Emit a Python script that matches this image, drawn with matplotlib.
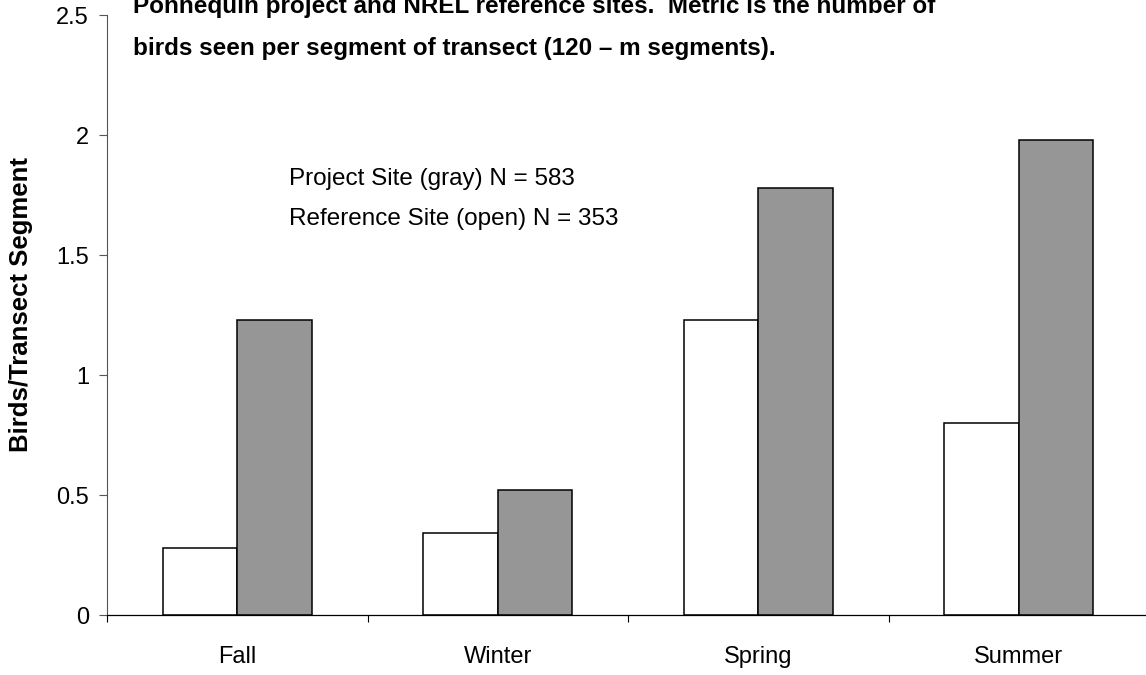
import matplotlib
matplotlib.use("Agg")
import matplotlib.pyplot as plt
import numpy as np

# data
seasons = ["Fall", "Winter", "Spring", "Summer"]
reference = [0.28, 0.34, 1.23, 0.80]   # open bars
project = [1.23, 0.52, 1.78, 1.98]     # gray bars

title_lines = ["Ponnequin project and NREL reference sites.  Metric is the number of",
               "birds seen per segment of transect (120 \u2013 m segments)."]
note_lines = ["Project Site (gray) N = 583", "Reference Site (open) N = 353"]

plt.rcParams["font.family"] = ["Liberation Sans", "DejaVu Sans"]

fig = plt.figure(figsize=(11.46, 6.75), dpi=100)
ax = fig.add_axes([107 / 1146, 60 / 675, 1042 / 1146, 600 / 675])

x = np.arange(len(seasons))
w = 0.286
ax.bar(x - w / 2, reference, w, color="white", edgecolor="black", linewidth=1.1)
ax.bar(x + w / 2, project, w, color="#969696", edgecolor="black", linewidth=1.1)

ax.set_xlim(-0.5, 3.5)
ax.set_ylim(0, 2.5)
ax.set_yticks([0, 0.5, 1, 1.5, 2, 2.5])
ax.set_yticklabels(["0", "0.5", "1", "1.5", "2", "2.5"])

# category boundaries get the tick marks, the names sit between them
ax.set_xticks(np.arange(-0.5, 3.6, 1.0))
ax.set_xticklabels([])
ax.set_xticks(x, minor=True)
ax.set_xticklabels(seasons, minor=True)
ax.tick_params(axis="x", which="major", length=5, width=0.8, color="black", direction="out")
ax.tick_params(axis="x", which="minor", length=0, pad=22, labelsize=17)
ax.tick_params(axis="y", length=6, width=0.8, color="#555555", direction="out", pad=7, labelsize=17)

for s in ["top", "right"]:
    ax.spines[s].set_visible(False)
ax.spines["left"].set_color("#555555")
ax.spines["left"].set_linewidth(0.8)
ax.spines["bottom"].set_linewidth(0.9)

ax.set_ylabel("Birds/Transect Segment", fontsize=18.5, fontweight="bold")
ax.yaxis.set_label_coords(-0.071, 0.517)

# two note lines, 40 px apart
ax.text(0.2, 1.79, note_lines[0], fontsize=17.5, va="baseline", ha="left")
ax.text(0.2, 1.79 - 40 / 240, note_lines[1], fontsize=17.5, va="baseline", ha="left")

fig.text(133 / 1146, 1 - 13 / 675, title_lines[0], fontsize=17.5, fontweight="bold", va="baseline")
fig.text(133 / 1146, 1 - 55 / 675, title_lines[1], fontsize=17.5, fontweight="bold", va="baseline")

fig.savefig("out.png", dpi=100)
